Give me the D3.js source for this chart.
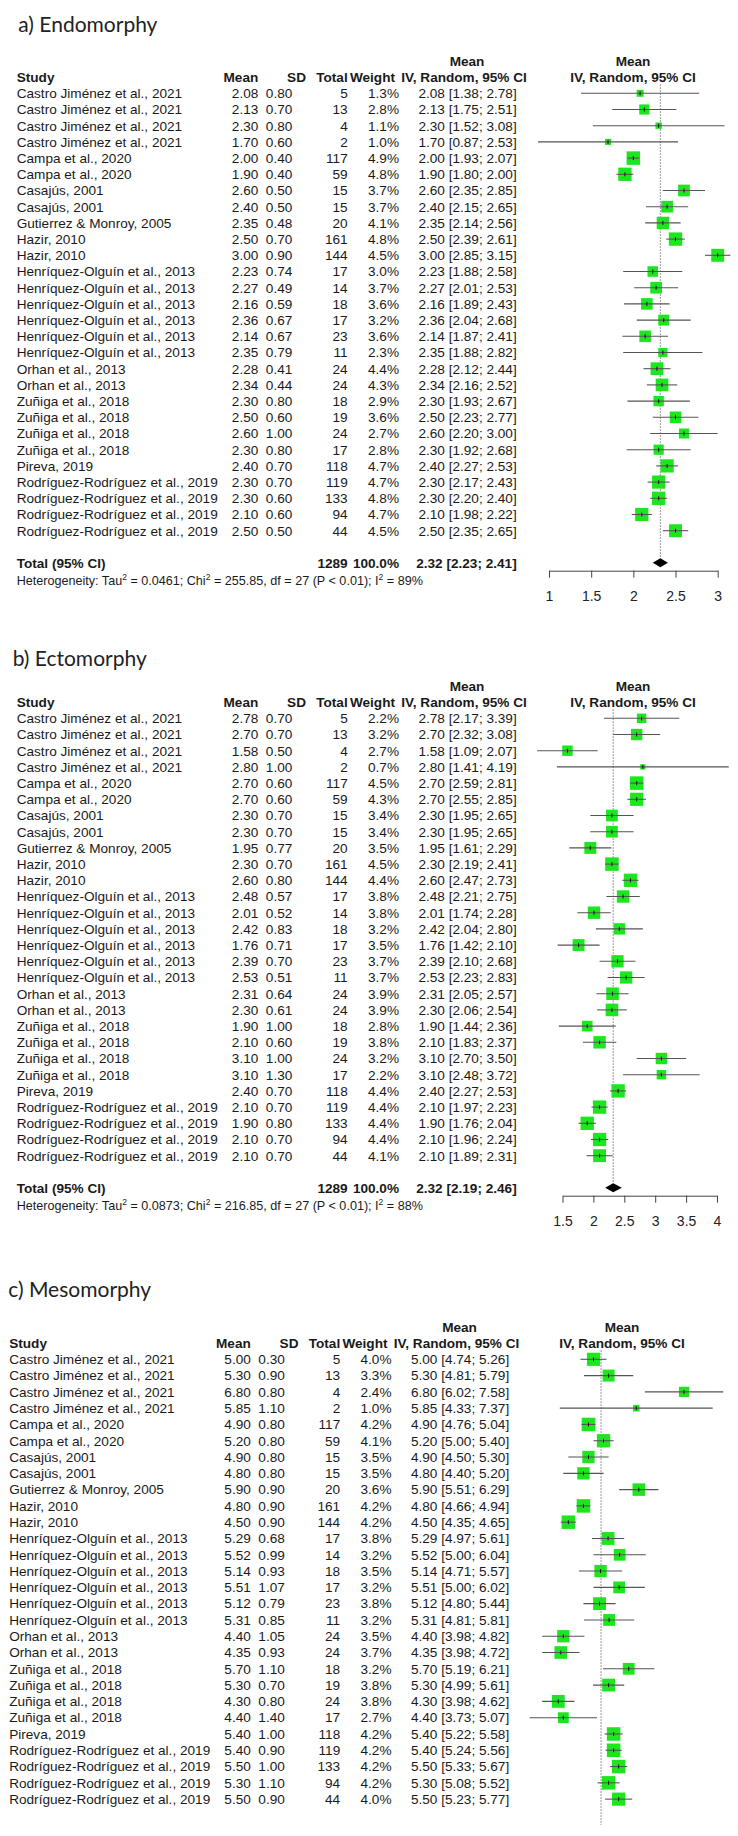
<!DOCTYPE html>
<html><head><meta charset="utf-8">
<script src="https://cdn.jsdelivr.net/npm/d3@7"></script>
<style>body{margin:0;background:#fff} svg{display:block}</style>
</head><body><svg id="chart" width="738" height="1836"></svg>
<script>
// ---------- data ----------
const studies = [
  "Castro Jiménez et al., 2021","Castro Jiménez et al., 2021","Castro Jiménez et al., 2021","Castro Jiménez et al., 2021",
  "Campa et al., 2020","Campa et al., 2020","Casajús, 2001","Casajús, 2001","Gutierrez & Monroy, 2005",
  "Hazir, 2010","Hazir, 2010",
  "Henríquez-Olguín et al., 2013","Henríquez-Olguín et al., 2013","Henríquez-Olguín et al., 2013",
  "Henríquez-Olguín et al., 2013","Henríquez-Olguín et al., 2013","Henríquez-Olguín et al., 2013",
  "Orhan et al., 2013","Orhan et al., 2013",
  "Zuñiga et al., 2018","Zuñiga et al., 2018","Zuñiga et al., 2018","Zuñiga et al., 2018",
  "Pireva, 2019",
  "Rodríguez-Rodríguez et al., 2019","Rodríguez-Rodríguez et al., 2019","Rodríguez-Rodríguez et al., 2019","Rodríguez-Rodríguez et al., 2019"
];
const sampleSize = [5,13,4,2,117,59,15,15,20,161,144,17,14,18,17,23,11,24,24,18,19,24,17,118,119,133,94,44];

const endoMean   = [2.08,2.13,2.30,1.70,2.00,1.90,2.60,2.40,2.35,2.50,3.00,2.23,2.27,2.16,2.36,2.14,2.35,2.28,2.34,2.30,2.50,2.60,2.30,2.40,2.30,2.30,2.10,2.50];
const endoSD     = [0.80,0.70,0.80,0.60,0.40,0.40,0.50,0.50,0.48,0.70,0.90,0.74,0.49,0.59,0.67,0.67,0.79,0.41,0.44,0.80,0.60,1.00,0.80,0.70,0.70,0.60,0.60,0.50];
const endoWeight = [1.3,2.8,1.1,1.0,4.9,4.8,3.7,3.7,4.1,4.8,4.5,3.0,3.7,3.6,3.2,3.6,2.3,4.4,4.3,2.9,3.6,2.7,2.8,4.7,4.7,4.8,4.7,4.5];
const endoLower  = [1.38,1.75,1.52,0.87,1.93,1.80,2.35,2.15,2.14,2.39,2.85,1.88,2.01,1.89,2.04,1.87,1.88,2.12,2.16,1.93,2.23,2.20,1.92,2.27,2.17,2.20,1.98,2.35];
const endoUpper  = [2.78,2.51,3.08,2.53,2.07,2.00,2.85,2.65,2.56,2.61,3.15,2.58,2.53,2.43,2.68,2.41,2.82,2.44,2.52,2.67,2.77,3.00,2.68,2.53,2.43,2.40,2.22,2.65];
const endoPooled = [2.32,2.23,2.41];
const endoHet    = ["0.0461","255.85","27","< 0.01","89%"];
const endoTicks  = [1,1.5,2,2.5,3];

const ectoMean   = [2.78,2.70,1.58,2.80,2.70,2.70,2.30,2.30,1.95,2.30,2.60,2.48,2.01,2.42,1.76,2.39,2.53,2.31,2.30,1.90,2.10,3.10,3.10,2.40,2.10,1.90,2.10,2.10];
const ectoSD     = [0.70,0.70,0.50,1.00,0.60,0.60,0.70,0.70,0.77,0.70,0.80,0.57,0.52,0.83,0.71,0.70,0.51,0.64,0.61,1.00,0.60,1.00,1.30,0.70,0.70,0.80,0.70,0.70];
const ectoWeight = [2.2,3.2,2.7,0.7,4.5,4.3,3.4,3.4,3.5,4.5,4.4,3.8,3.8,3.2,3.5,3.7,3.7,3.9,3.9,2.8,3.8,3.2,2.2,4.4,4.4,4.4,4.4,4.1];
const ectoLower  = [2.17,2.32,1.09,1.41,2.59,2.55,1.95,1.95,1.61,2.19,2.47,2.21,1.74,2.04,1.42,2.10,2.23,2.05,2.06,1.44,1.83,2.70,2.48,2.27,1.97,1.76,1.96,1.89];
const ectoUpper  = [3.39,3.08,2.07,4.19,2.81,2.85,2.65,2.65,2.29,2.41,2.73,2.75,2.28,2.80,2.10,2.68,2.83,2.57,2.54,2.36,2.37,3.50,3.72,2.53,2.23,2.04,2.24,2.31];
const ectoPooled = [2.32,2.19,2.46];
const ectoHet    = ["0.0873","216.85","27","< 0.01","88%"];
const ectoTicks  = [1.5,2,2.5,3,3.5,4];

const mesoMean   = [5.00,5.30,6.80,5.85,4.90,5.20,4.90,4.80,5.90,4.80,4.50,5.29,5.52,5.14,5.51,5.12,5.31,4.40,4.35,5.70,5.30,4.30,4.40,5.40,5.40,5.50,5.30,5.50];
const mesoSD     = [0.30,0.90,0.80,1.10,0.80,0.80,0.80,0.80,0.90,0.90,0.90,0.68,0.99,0.93,1.07,0.79,0.85,1.05,0.93,1.10,0.70,0.80,1.40,1.00,0.90,1.00,1.10,0.90];
const mesoWeight = [4.0,3.3,2.4,1.0,4.2,4.1,3.5,3.5,3.6,4.2,4.2,3.8,3.2,3.5,3.2,3.8,3.2,3.5,3.7,3.2,3.8,3.8,2.7,4.2,4.2,4.2,4.2,4.0];
const mesoLower  = [4.74,4.81,6.02,4.33,4.76,5.00,4.50,4.40,5.51,4.66,4.35,4.97,5.00,4.71,5.00,4.80,4.81,3.98,3.98,5.19,4.99,3.98,3.73,5.22,5.24,5.33,5.08,5.23];
const mesoUpper  = [5.26,5.79,7.58,7.37,5.04,5.40,5.30,5.20,6.29,4.94,4.65,5.61,6.04,5.57,6.02,5.44,5.81,4.82,4.72,6.21,5.61,4.62,5.07,5.58,5.56,5.67,5.52,5.77];
const mesoPooled = [5.15];

// ---------- drawing ----------
const svg = d3.select("#chart");
svg.append("rect").attr("width",738).attr("height",1836).attr("fill","#fff");
const FONT = "'Liberation Sans', Arial, sans-serif";
const TXT = "#1a1a1a";

function drawPanel(p) {
  const g = svg.append("g").attr("font-family", FONT).attr("fill", TXT);
  const dx = p.dx;
  const n = p.mean.length;
  const rowY = i => p.row1 + i * p.step;
  const x = d3.scaleLinear().domain(p.domain).range(p.range);
  const size = d3.scaleSqrt().domain([0, d3.max(p.weight)]).range([0, 13.5]);
  const f2 = d3.format(".2f"), f1 = d3.format(".1f");
  const base = 4.8;

  // title
  g.append("text").attr("x", p.titleX).attr("y", p.titleY)
    .attr("font-family", "Lato, 'Open Sans', sans-serif").attr("font-size", 21).attr("fill", "#222")
    .text(p.title);

  // headers
  const hb = g.append("g").attr("font-weight", "bold").attr("font-size", 13.6);
  const hy1 = p.row1 - 32.4, hy2 = p.row1 - 16.2;
  hb.append("text").attr("x", 16.7 + dx).attr("y", hy2 + base).text("Study");
  hb.append("text").attr("x", 258.3 + dx).attr("y", hy2 + base).attr("text-anchor", "end").text("Mean");
  hb.append("text").attr("x", 306 + dx).attr("y", hy2 + base).attr("text-anchor", "end").text("SD");
  hb.append("text").attr("x", 347.7 + dx).attr("y", hy2 + base).attr("text-anchor", "end").text("Total");
  hb.append("text").attr("x", 395 + dx).attr("y", hy2 + base).attr("text-anchor", "end").text("Weight");
  hb.append("text").attr("x", 467 + dx).attr("y", hy1 + base).attr("text-anchor", "middle").text("Mean");
  hb.append("text").attr("x", 464 + dx).attr("y", hy2 + base).attr("text-anchor", "middle").text("IV, Random, 95% CI");
  hb.append("text").attr("x", p.plotHeadX).attr("y", hy1 + base).attr("text-anchor", "middle").text("Mean");
  hb.append("text").attr("x", p.plotHeadX).attr("y", hy2 + base).attr("text-anchor", "middle").text("IV, Random, 95% CI");

  // table rows
  const rows = g.append("g").attr("font-size", 13.6);
  const idx = d3.range(n);
  const col = (ax, anchor, fn) => rows.append("g").selectAll("text").data(idx).join("text")
    .attr("x", ax + dx).attr("y", i => rowY(i) + base).attr("text-anchor", anchor).text(fn);
  col(16.7, "start", i => studies[i]);
  col(258.3, "end", i => f2(p.mean[i]));
  col(292.3, "end", i => f2(p.sd[i]));
  col(347.7, "end", i => sampleSize[i]);
  col(399, "end", i => f1(p.weight[i]) + "%");
  col(516.7, "end", i => `${f2(p.mean[i])} [${f2(p.lower[i])}; ${f2(p.upper[i])}]`);

  // reference dotted line
  const lastY = rowY(n - 1);
  const totY = lastY + 32;
  g.append("line").attr("x1", x(p.pooled[0])).attr("x2", x(p.pooled[0]))
    .attr("y1", p.row1 - 9).attr("y2", p.hasTotal ? totY - 4 : p.lineEnd)
    .attr("stroke", "#777").attr("stroke-width", 1).attr("stroke-dasharray", "1.5,1.5");

  // study markers
  const m = g.append("g").selectAll("g").data(idx).join("g");
  m.append("rect")
    .attr("x", i => x(p.mean[i]) - size(p.weight[i]) / 2)
    .attr("y", i => rowY(i) - size(p.weight[i]) / 2)
    .attr("width", i => size(p.weight[i])).attr("height", i => size(p.weight[i]))
    .attr("fill", "#1ee61e");
  m.append("line")
    .attr("x1", i => x(p.lower[i])).attr("x2", i => x(p.upper[i]))
    .attr("y1", i => rowY(i)).attr("y2", i => rowY(i))
    .attr("stroke", "#555").attr("stroke-width", 1.1);
  m.append("line")
    .attr("x1", i => x(p.mean[i])).attr("x2", i => x(p.mean[i]))
    .attr("y1", i => rowY(i) - 2).attr("y2", i => rowY(i) + 2)
    .attr("stroke", "#111").attr("stroke-width", 1);

  if (p.hasTotal) {
    const tb = g.append("g").attr("font-weight", "bold").attr("font-size", 13.6);
    tb.append("text").attr("x", 16.7 + dx).attr("y", totY + base).text("Total (95% CI)");
    tb.append("text").attr("x", 347.7 + dx).attr("y", totY + base).attr("text-anchor", "end").text(d3.sum(sampleSize));
    tb.append("text").attr("x", 399 + dx).attr("y", totY + base).attr("text-anchor", "end").text("100.0%");
    tb.append("text").attr("x", 516.7 + dx).attr("y", totY + base).attr("text-anchor", "end")
      .text(`${f2(p.pooled[0])} [${f2(p.pooled[1])}; ${f2(p.pooled[2])}]`);

    // diamond
    const [e, lo, hi] = p.pooled;
    g.append("path")
      .attr("d", `M${x(lo)},${totY} L${x(e)},${totY - 4.5} L${x(hi)},${totY} L${x(e)},${totY + 4.5} Z`)
      .attr("fill", "#000");

    // heterogeneity
    const h = p.het;
    const ht = g.append("text").attr("x", 16.7 + dx).attr("y", lastY + 50 + 4).attr("font-size", 12.6);
    ht.append("tspan").text("Heterogeneity: Tau");
    ht.append("tspan").attr("dy", -4.5).attr("font-size", 8.5).text("2");
    ht.append("tspan").attr("dy", 4.5).text(` = ${h[0]}; Chi`);
    ht.append("tspan").attr("dy", -4.5).attr("font-size", 8.5).text("2");
    ht.append("tspan").attr("dy", 4.5).text(` = ${h[1]}, df = ${h[2]} (P ${h[3]}); I`);
    ht.append("tspan").attr("dy", -4.5).attr("font-size", 8.5).text("2");
    ht.append("tspan").attr("dy", 4.5).text(` = ${h[4]}`);

    // axis
    const axis = d3.axisBottom(x).tickValues(p.ticks).tickSize(7).tickSizeOuter(0).tickPadding(13)
      .tickFormat(d3.format("~g"));
    const ag = g.append("g").attr("transform", `translate(0,${lastY + 40})`).call(axis);
    ag.selectAll("path,line").attr("stroke", "#444").attr("stroke-width", 1);
    ag.selectAll("text").attr("font-size", 14).attr("font-family", FONT).attr("fill", "#222");
  }
}

drawPanel({ title: "a) Endomorphy", titleX: 18.3, titleY: 31.5, dx: 0, row1: 93.3, step: 16.2,
  mean: endoMean, sd: endoSD, weight: endoWeight, lower: endoLower, upper: endoUpper,
  pooled: endoPooled, het: endoHet, ticks: endoTicks, hasTotal: true,
  domain: [1, 3], range: [549, 717.7], plotHeadX: 633 });

drawPanel({ title: "b) Ectomorphy", titleX: 12.7, titleY: 665.5, dx: 0, row1: 718.3, step: 16.2,
  mean: ectoMean, sd: ectoSD, weight: ectoWeight, lower: ectoLower, upper: ectoUpper,
  pooled: ectoPooled, het: ectoHet, ticks: ectoTicks, hasTotal: true,
  domain: [1.5, 4], range: [562.5, 717], plotHeadX: 633 });

drawPanel({ title: "c) Mesomorphy", titleX: 8.3, titleY: 1297, dx: -7.5, row1: 1359.3, step: 16.29,
  mean: mesoMean, sd: mesoSD, weight: mesoWeight, lower: mesoLower, upper: mesoUpper,
  pooled: mesoPooled, hasTotal: false, lineEnd: 1825,
  domain: [4, 7], range: [543.2, 694.1], plotHeadX: 622 });
</script>
</body></html>
